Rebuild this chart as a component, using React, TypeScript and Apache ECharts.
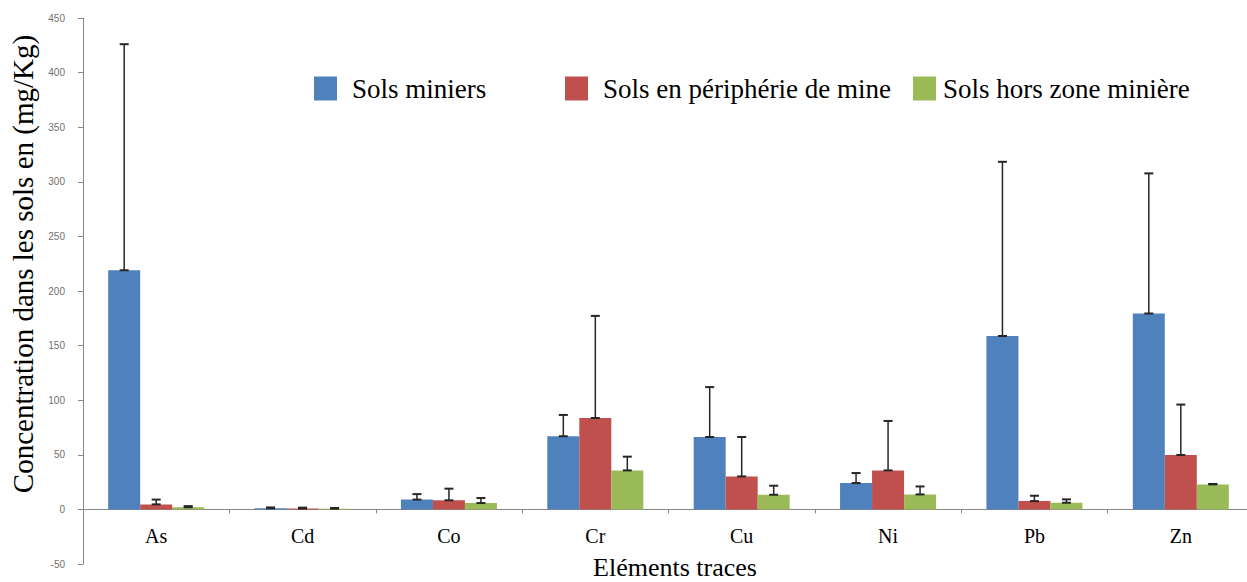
import React, { useEffect, useRef } from "react";
import * as echarts from "echarts";

const categories = ["As", "Cd", "Co", "Cr", "Cu", "Ni", "Pb", "Zn"];
const seriesNames = ["Sols miniers", "Sols en périphérie de mine", "Sols hors zone minière"];
const colors = ["#4F81BD", "#C0504D", "#9BBB59"];

const miniersValues = [219, 1, 9, 67, 66.3, 24.1, 158.8, 179.4];
const miniersErrors = [207, 0.8, 5, 19.5, 45.7, 9.2, 159.5, 128.3];
const peripherieValues = [4.6, 0.8, 8.3, 83.7, 30.2, 35.7, 7.6, 49.8];
const peripherieErrors = [4.4, 0.8, 10.7, 93.5, 36.1, 45.3, 4.9, 46.2];
const horsZoneValues = [2, 0.6, 5.8, 35.7, 13.4, 13.7, 6.1, 22.9];
const horsZoneErrors = [1, 0.7, 4.6, 12.6, 8.3, 7.3, 3.1, 0.4];

const yMin = -50;
const yMax = 450;
const yInterval = 50;

const yAxisTitle = "Concentration dans les sols en (mg/Kg)";
const xAxisTitle = "Eléments traces";

const BAR_W = 32;
const GRID_TOP = 18;
const GRID_BOTTOM = 18;
const HEIGHT = 582;

export default function App() {
  const ref = useRef<HTMLDivElement>(null);

  useEffect(() => {
    document.body.style.margin = "0";
    const chart = echarts.init(ref.current!, null, { renderer: "svg" });

    const values = [miniersValues, peripherieValues, horsZoneValues];
    const errors = [miniersErrors, peripherieErrors, horsZoneErrors];

    // distance from bottom of grid (yMin) to the zero line, in pixels
    const plotH = HEIGHT - GRID_TOP - GRID_BOTTOM;
    const zeroOffset = ((0 - yMin) / (yMax - yMin)) * plotH;

    const barSeries = values.map((vals, s) => ({
      name: seriesNames[s],
      type: "bar",
      data: vals,
      barWidth: BAR_W,
      barGap: "0%",
      itemStyle: { color: colors[s] },
      z: 2,
    }));

    const errSeries = values.map((vals, s) => ({
      name: seriesNames[s] + " (erreur)",
      type: "custom",
      z: 5,
      data: vals.map((v, i) => [i, v, errors[s][i]]),
      encode: { x: 0, y: [1] },
      renderItem: (params: any, api: any) => {
        const idx = api.value(0);
        const v = api.value(1);
        const e = api.value(2);
        const p0 = api.coord([idx, v]);
        const p1 = api.coord([idx, v + e]);
        const x = p0[0] + (s - 1) * BAR_W;
        const cap = 4.5;
        const st = { stroke: "#262626", lineWidth: 1.5 };
        const capSt = { stroke: "#262626", lineWidth: 2 };
        return {
          type: "group",
          children: [
            { type: "line", shape: { x1: x, y1: p0[1], x2: x, y2: p1[1] }, style: st },
            { type: "line", shape: { x1: x - cap, y1: p1[1], x2: x + cap, y2: p1[1] }, style: capSt },
            { type: "line", shape: { x1: x - cap, y1: p0[1], x2: x + cap, y2: p0[1] }, style: capSt },
          ],
        };
      },
    }));

    const legendBase = {
      icon: "rect",
      itemWidth: 23,
      itemHeight: 24,
      padding: 0,
      top: 75,
      selectedMode: false,
    };
    const legendText = (pad: number) => ({
      fontFamily: "Liberation Serif",
      fontSize: 27,
      color: "#000",
      lineHeight: 24,
      padding: [0, 0, 0, pad],
    });

    chart.setOption({
      animation: false,
      backgroundColor: "#fff",
      grid: {
        left: 83,
        right: -7,
        top: GRID_TOP,
        bottom: GRID_BOTTOM,
        containLabel: false,
        outerBoundsMode: "none",
      },
      legend: [
        { ...legendBase, left: 314, data: [seriesNames[0]], textStyle: legendText(10) },
        { ...legendBase, left: 565, data: [seriesNames[1]], textStyle: legendText(10) },
        { ...legendBase, left: 913, data: [seriesNames[2]], textStyle: legendText(2) },
      ],
      xAxis: {
        type: "category",
        data: categories,
        position: "bottom",
        offset: -zeroOffset,
        axisLine: { onZero: false, lineStyle: { color: "#868686", width: 1 } },
        axisTick: { show: true, length: 4, lineStyle: { color: "#868686" } },
        axisLabel: {
          fontFamily: "Liberation Serif",
          fontSize: 20,
          color: "#000",
          margin: 17,
        },
      },
      yAxis: {
        type: "value",
        min: yMin,
        max: yMax,
        interval: yInterval,
        splitLine: { show: false },
        axisLine: { show: true, lineStyle: { color: "#868686", width: 1 } },
        axisTick: { show: true, length: 5, lineStyle: { color: "#868686" } },
        axisLabel: {
          fontFamily: "Liberation Sans",
          fontSize: 10,
          color: "#707070",
          margin: 18,
        },
      },
      graphic: [
        {
          type: "text",
          x: 23,
          y: 264,
          rotation: Math.PI / 2,
          style: {
            text: yAxisTitle,
            font: '29px "Liberation Serif"',
            fill: "#000",
            align: "center",
            verticalAlign: "middle",
          },
        },
        {
          type: "text",
          x: 675,
          y: 567,
          style: {
            text: xAxisTitle,
            font: '26px "Liberation Serif"',
            fill: "#000",
            align: "center",
            verticalAlign: "middle",
          },
        },
      ],
      series: [...barSeries, ...errSeries],
    });

    return () => chart.dispose();
  }, []);

  return <div ref={ref} style={{ width: 1247, height: 582 }} />;
}
